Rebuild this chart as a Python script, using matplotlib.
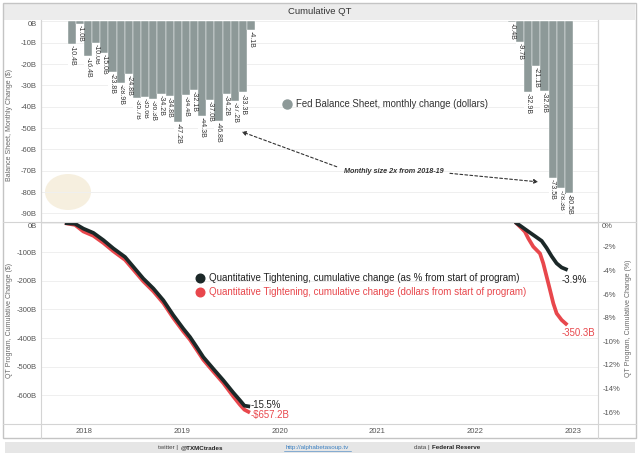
import numpy as np
import pandas as pd
import matplotlib
matplotlib.use('Agg')
import matplotlib.pyplot as plt
from matplotlib.lines import Line2D
from matplotlib.patches import Rectangle, Ellipse

plt.rcParams['font.family'] = ['Liberation Sans', 'DejaVu Sans']

# monthly change of the Fed balance sheet ($B)
bars1_months = pd.period_range('2017-11', '2019-09', freq='M')
bars1_values = [-10.4, -1.0, -16.4, -10.0, -15.0, -23.8, -28.9, -24.8, -35.7, -35.6,
                -36.3, -34.2, -34.8, -47.2, -34.4, -32.1, -44.3, -37.0, -46.8, -34.2,
                -37.2, -33.3, -4.1]
bars2_months = pd.period_range('2022-05', '2022-12', freq='M')
bars2_values = [-0.4, -9.7, -32.9, -21.1, -32.6, -73.5, -78.3, -80.5]

# cumulative QT, first program (decimal years)
qt1_dates = [2017.823, 2017.908, 2017.993, 2018.095, 2018.197, 2018.300, 2018.419, 2018.504,
             2018.606, 2018.709, 2018.811, 2018.913, 2019.015, 2019.084, 2019.152, 2019.220,
             2019.322, 2019.424, 2019.527, 2019.595, 2019.640, 2019.680]
qt1_dollars = [0, -5, -28, -43, -68, -97, -127, -161, -202, -237, -278, -330, -377, -406,
               -441, -476, -517, -557, -604, -633, -650, -657.2]
qt1_pct = [0, -0.05, -0.46, -0.82, -1.43, -2.14, -2.86, -3.69, -4.69, -5.53, -6.53, -7.79,
           -8.93, -9.64, -10.48, -11.34, -12.33, -13.3, -14.35, -15.0, -15.45, -15.5]

# cumulative QT, second program
qt2_dollar_dates = [2022.424, 2022.475, 2022.509, 2022.543, 2022.594, 2022.663, 2022.696,
                    2022.731, 2022.765, 2022.799, 2022.833, 2022.884, 2022.928]
qt2_dollars = [0, -17, -29, -52, -81, -105, -139, -186, -232, -279, -314, -337, -350.3]
qt2_pct_dates = [2022.424, 2022.492, 2022.560, 2022.629, 2022.680, 2022.731, 2022.782,
                 2022.833, 2022.884, 2022.928]
qt2_pct = [0, -0.4, -0.8, -1.2, -1.5, -2.1, -2.8, -3.4, -3.75, -3.9]

years = [2018, 2019, 2020, 2021, 2022, 2023]

BAR = '#8d9998'
RED = '#e8474c'
BLACK = '#1b2828'
GRID = '#efefef'
LINE = '#d4d4d4'
TICK = '#555555'

W, H = 640, 457
fig = plt.figure(figsize=(6.4, 4.57), dpi=100)


def box(x0, y0, x1, y1):
    return [x0 / W, 1 - y1 / H, (x1 - x0) / W, (y1 - y0) / H]


def fline(x0, y0, x1, y1, color=LINE, lw=0.8):
    fig.add_artist(Line2D([x0 / W, x1 / W], [1 - y0 / H, 1 - y1 / H],
                          transform=fig.transFigure, color=color, lw=lw))


def dec_year(periods):
    return np.array([p.year + (p.month - 1) / 12 for p in periods])


XMIN, XMAX = 2017.560, 2023.256

# frame, title and footer
fig.add_artist(Rectangle((4 / W, 1 - 20 / H), 631 / W, 16 / H, transform=fig.transFigure,
                         fc='#ececec', ec='none'))
fig.add_artist(Rectangle((3 / W, 1 - 438 / H), 633 / W, 435 / H, transform=fig.transFigure,
                         fill=False, ec='#c4c4c4', lw=1))
fig.text(320 / W, 1 - 12 / H, 'Cumulative QT', ha='center', va='center', fontsize=6.8, color='#333')
fig.add_artist(Rectangle((5 / W, 1 - 453 / H), 630 / W, 11 / H, transform=fig.transFigure,
                         fc='#e6e6e6', ec='none'))
fy = 1 - 447.5 / H
fig.text(158 / W, fy, 'twitter |', fontsize=4.5, color='#444', va='center')
fig.text(181 / W, fy, '@TXMCtrades', fontsize=4.5, color='#222', weight='bold', va='center')
fig.text(317 / W, fy, 'http://alphabetasoup.tv', fontsize=4.5, color='#3a7fc1', ha='center', va='center')
fline(284, 450.5, 351, 450.5, color='#3a7fc1', lw=0.4)
fig.text(414 / W, fy, 'data |', fontsize=4.5, color='#444', va='center')
fig.text(432 / W, fy, 'Federal Reserve', fontsize=4.5, color='#222', weight='bold', va='center')

# ---- top panel: monthly change bars
ax_top = fig.add_axes(box(41, 21.4, 598, 222))
for months, vals in [(bars1_months, bars1_values), (bars2_months, bars2_values)]:
    x = dec_year(months)
    ax_top.bar(x, vals, width=1 / 12, align='edge', color=BAR, edgecolor='white', linewidth=0.3)
    for xi, v in zip(x, vals):
        ax_top.text(xi + 1 / 24, v - 0.5, f'{v:.1f}B', rotation=-90, ha='center', va='top',
                    fontsize=5, color='#333',
                    bbox=dict(boxstyle='square,pad=0.08', fc='white', ec='none'))
ax_top.set_xlim(XMIN, XMAX)
ax_top.set_ylim(-94, 0)
ax_top.set_xticks([])
ax_top.set_yticks(range(0, -91, -10))
ax_top.set_yticklabels([f'{v}B' for v in range(0, -91, -10)])
ax_top.yaxis.get_major_ticks()[0].label1.set_va('top')
ax_top.yaxis.grid(True, color=GRID, lw=0.7)
ax_top.set_axisbelow(True)
ax_top.tick_params(length=0, labelsize=5.5, labelcolor=TICK, pad=3)
for s in ['top', 'bottom']:
    ax_top.spines[s].set_visible(False)
for s in ['left', 'right']:
    ax_top.spines[s].set_color(LINE)
    ax_top.spines[s].set_linewidth(0.8)

# faint logo watermark
ax_top.add_patch(Ellipse((68 / W, 1 - 192 / H), 46 / W, 36 / H, transform=fig.transFigure,
                         fc='#f3e9d2', ec='none', alpha=0.7, zorder=0.5))

ax_top.plot([2020.076], [-38.7], 'o', ms=6.5, color=BAR)
ax_top.text(2020.168, -38.7, 'Fed Balance Sheet, monthly change (dollars)', fontsize=6.9,
            color='#333', va='center')

arrow = dict(arrowstyle='-|>', linestyle=(0, (2.5, 2)), color='#333', lw=0.8,
             mutation_scale=6, shrinkA=0, shrinkB=0)
ax_top.annotate('', xy=(2019.612, -51.7), xytext=(2020.584, -68.1), arrowprops=arrow)
ax_top.annotate('', xy=(2022.645, -75.2), xytext=(2021.742, -71.2), arrowprops=arrow)
ax_top.text(2021.170, -70.5, 'Monthly size 2x from 2018-19', fontsize=5.2, style='italic',
            weight='bold', color='#333', ha='center', va='center')

# ---- bottom panel: cumulative QT
ax_bot = fig.add_axes(box(41, 222, 598, 424))
ax_pct = ax_bot.twinx()
ax_bot.plot(qt1_dates, qt1_dollars, color=RED, lw=2.7)
ax_bot.plot(qt2_dollar_dates, qt2_dollars, color=RED, lw=2.7)
ax_pct.plot(qt1_dates, qt1_pct, color=BLACK, lw=2.7)
ax_pct.plot(qt2_pct_dates, qt2_pct, color=BLACK, lw=2.7)

ax_bot.set_xlim(XMIN, XMAX)
ax_bot.set_ylim(-700, 5)
ax_pct.set_ylim(-17.0, 0.1)
ax_bot.set_yticks(range(0, -601, -100))
ax_bot.set_yticklabels([f'{v}B' for v in range(0, -601, -100)])
ax_bot.yaxis.get_major_ticks()[0].label1.set_va('top')
ax_pct.set_yticks(range(0, -17, -2))
ax_pct.set_yticklabels([f'{v}%' for v in range(0, -17, -2)])
ax_pct.yaxis.get_major_ticks()[0].label2.set_va('top')
ax_bot.set_xticks(years)
ax_bot.set_xticklabels([str(y) for y in years])
ax_bot.yaxis.grid(True, color=GRID, lw=0.7)
ax_bot.set_axisbelow(True)
ax_bot.tick_params(length=0, labelsize=5.5, labelcolor=TICK, pad=3)
ax_pct.tick_params(length=0, labelsize=5.5, labelcolor=TICK, pad=3)
for a in [ax_bot, ax_pct]:
    for s in a.spines.values():
        s.set_visible(False)

ax_pct.text(2019.708, -15.36, '-15.5%', fontsize=6.9, color='#222', va='center')
ax_bot.text(2019.708, -668.4, '-$657.2B', fontsize=6.9, color=RED, va='center')
ax_pct.text(2022.888, -4.82, '-3.9%', fontsize=6.9, color='#222', va='center')
ax_bot.text(2022.888, -382, '-350.3B', fontsize=6.9, color=RED, va='center')

ax_bot.plot([2019.186], [-190.2], 'o', ms=6.2, color=BLACK)
ax_bot.text(2019.278, -190.2, 'Quantitative Tightening, cumulative change (as % from start of program)',
            fontsize=7.0, color='#222', va='center')
ax_bot.plot([2019.186], [-239.1], 'o', ms=6.2, color=RED)
ax_bot.text(2019.278, -239.1, 'Quantitative Tightening, cumulative change (dollars from start of program)',
            fontsize=7.0, color=RED, va='center')

# axis titles
fig.text(10 / W, 1 - 125 / H, 'Balance Sheet, Monthly Change ($)', rotation=90, fontsize=5,
         color='#666', ha='center', va='center')
fig.text(10 / W, 1 - 320 / H, 'QT Program, Cumulative Change ($)', rotation=90, fontsize=5,
         color='#666', ha='center', va='center')
fig.text(628 / W, 1 - 318 / H, 'QT Program, Cumulative Change (%)', rotation=90, fontsize=5,
         color='#666', ha='center', va='center')

# panel separators
fline(3, 222, 636, 222)
fline(3, 424, 636, 424)
fline(41, 20, 41, 438)
fline(598, 20, 598, 438)

fig.savefig('out.png', dpi=100)
